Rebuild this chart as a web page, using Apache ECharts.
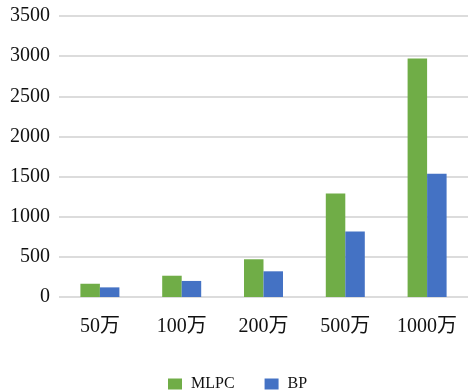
<!DOCTYPE html>
<html>
<head>
<meta charset="utf-8">
<script src="https://cdn.jsdelivr.net/npm/echarts@6/dist/echarts.min.js"></script>
<style>
  html, body { margin: 0; padding: 0; background: #fff; }
  #chart { width: 468px; height: 391px; }
</style>
</head>
<body>
<div id="chart"></div>
<script>
// Sample sizes on the x axis
const categories = ['50万', '100万', '200万', '500万', '1000万'];
// Values per model
const mlpcValues = [165, 265, 470, 1290, 2970];
const bpValues = [120, 200, 320, 815, 1535];
// Y axis range
const yMin = 0;
const yMax = 3500;
const yStep = 500;

const serif = '"Liberation Serif", "Times New Roman", "Noto Sans CJK SC", serif';

const chart = echarts.init(document.getElementById('chart'), null, { renderer: 'canvas' });
chart.setOption({
  animation: false,
  backgroundColor: '#ffffff',
  grid: { left: 59, right: 0, top: 16, bottom: 94, containLabel: false },
  legend: {
    data: ['MLPC', 'BP'],
    left: 163,
    top: 371,
    icon: 'rect',
    itemWidth: 14,
    itemHeight: 11,
    itemGap: 30,
    textStyle: { fontFamily: serif, fontSize: 16, color: '#111', padding: [0, 0, 0, 4] }
  },
  xAxis: {
    type: 'category',
    data: categories,
    axisLine: { show: false },
    axisTick: { show: false },
    axisLabel: { fontFamily: serif, fontSize: 20, color: '#111', margin: 20 }
  },
  yAxis: {
    type: 'value',
    min: yMin,
    max: yMax,
    interval: yStep,
    axisLine: { show: false },
    axisTick: { show: false },
    axisLabel: {
      fontFamily: serif, fontSize: 20, color: '#111', margin: 9,
      formatter: v => String(v)
    },
    splitLine: { lineStyle: { color: '#dcdcdc', width: 2 } }
  },
  series: [
    {
      name: 'MLPC',
      type: 'bar',
      data: mlpcValues,
      barWidth: 19.5,
      barGap: '0%',
      itemStyle: { color: '#70AD47' }
    },
    {
      name: 'BP',
      type: 'bar',
      data: bpValues,
      barWidth: 19.5,
      barGap: '0%',
      itemStyle: { color: '#4472C4' }
    }
  ]
});
</script>
</body>
</html>
